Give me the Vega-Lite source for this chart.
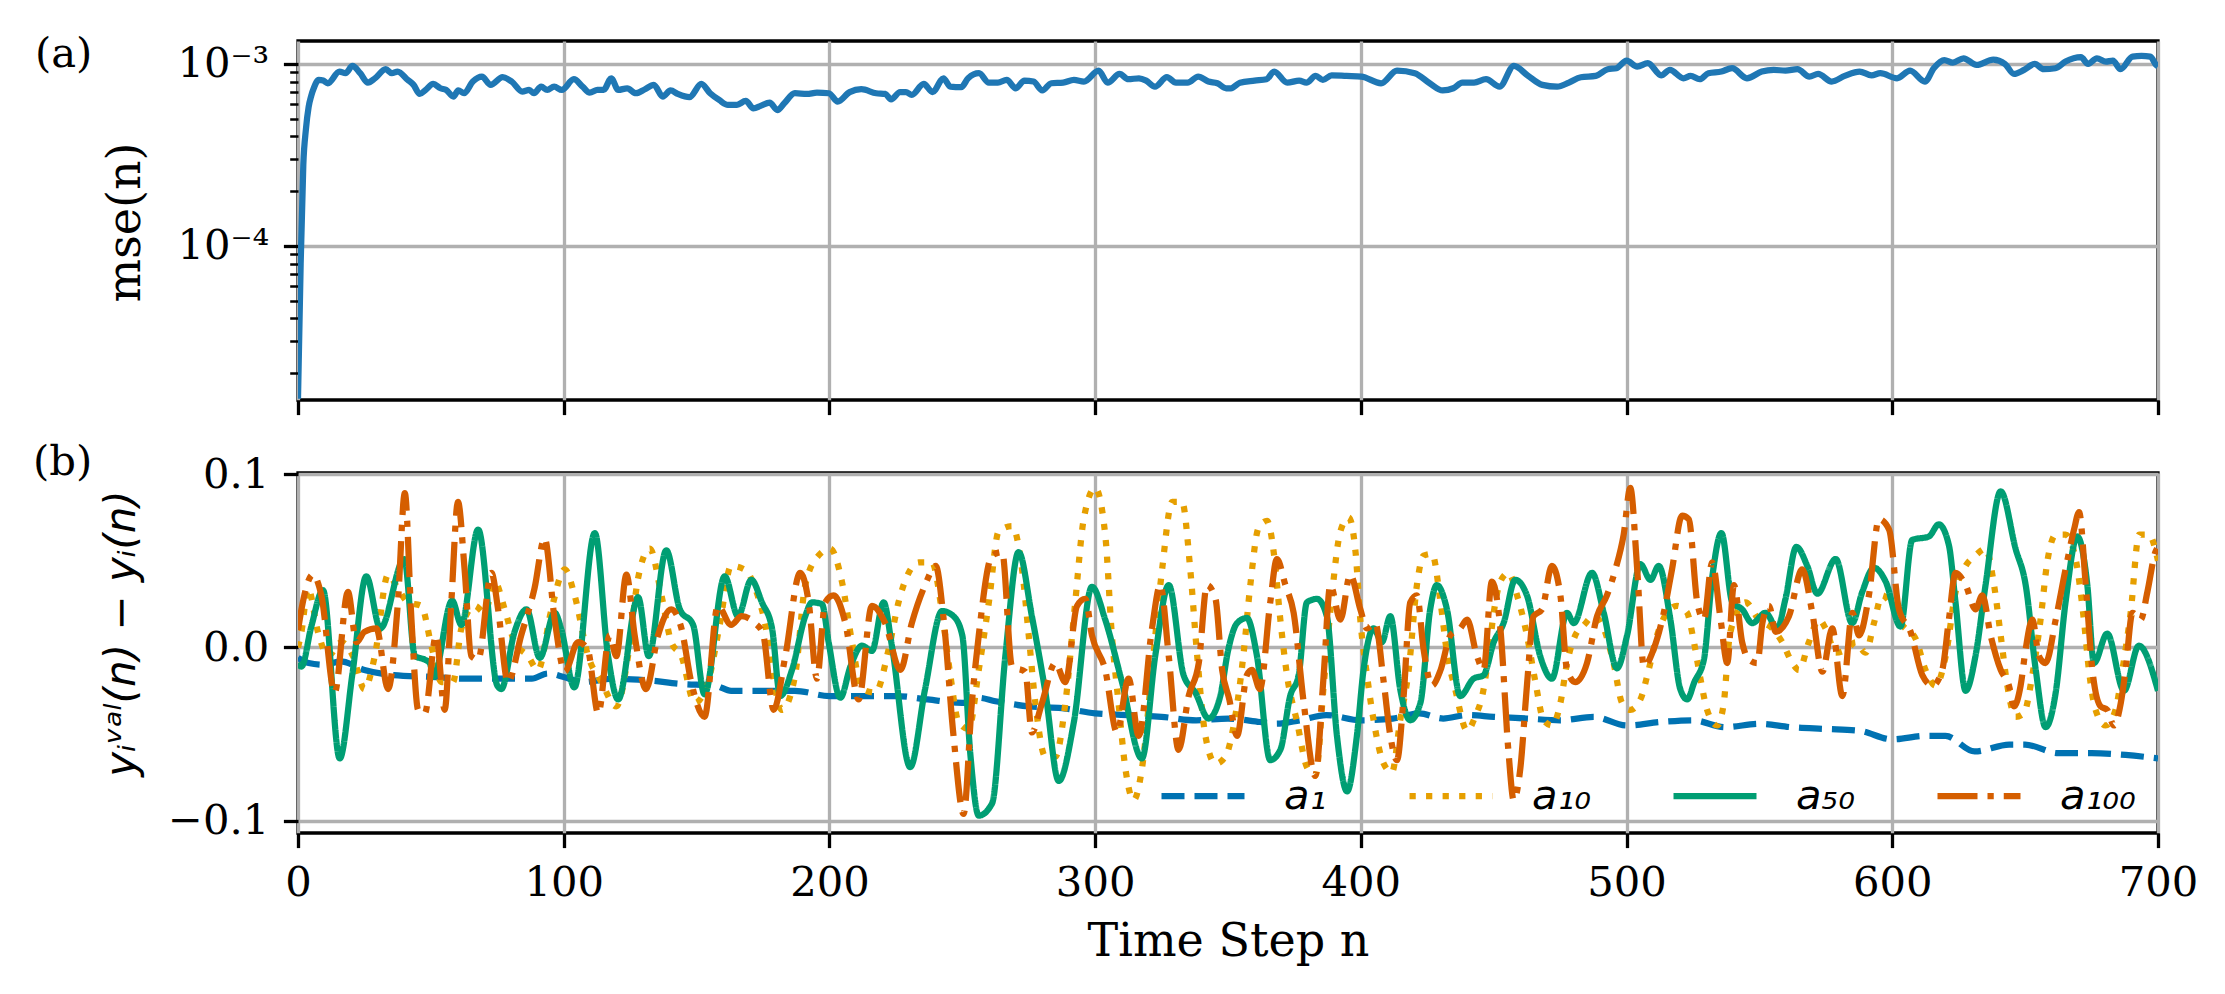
{
"$schema": "https://vega.github.io/schema/vega-lite/v6.json",
"background": "white",
"padding": {"left": 31, "top": 32, "right": 10, "bottom": 10},
"spacing": 73,
"bounds": "flush",
"config": {
  "view": {"stroke": "black", "strokeWidth": 3.3},
  "axis": {"domain": false, "tickColor": "black", "tickWidth": 3.3, "tickSize": 14.6, "labelColor": "black", "labelFont": "DejaVu Serif", "labelFontSize": 41.7, "labelPadding": 14.6, "gridColor": "#b0b0b0", "gridWidth": 3.3, "titleColor": "black", "titleFontWeight": "normal", "labelOverlap": false, "labelFlush": false}
},
"datasets": {
"mse": [
{"n":0,"v":1.45e-5},{"n":1,"v":8e-5},{"n":2,"v":2.8e-4},{"n":3,"v":4.4e-4},{"n":4,"v":5.8e-4},{"n":5,"v":6.7e-4},{"n":6,"v":7.4e-4},{"n":7.8,"v":8.17e-4},{"n":9.5,"v":8.1e-4},{"n":11.2,"v":7.83e-4},
{"n":15.6,"v":9.08e-4},{"n":17.9,"v":8.89e-4},{"n":20.5,"v":9.75e-4},{"n":23.4,"v":8.89e-4},{"n":26.3,"v":7.89e-4},{"n":29,"v":8.34e-4},{"n":33,"v":9.35e-4},{"n":35.3,"v":8.89e-4},{"n":37.5,"v":9.08e-4},{"n":41.3,"v":8.17e-4},
{"n":43.5,"v":7.67e-4},{"n":45.8,"v":6.84e-4},{"n":48,"v":7.19e-4},{"n":50.9,"v":7.76e-4},{"n":53.6,"v":7.35e-4},{"n":55.8,"v":7.19e-4},{"n":58.5,"v":6.62e-4},{"n":60.3,"v":7.15e-4},{"n":62.5,"v":6.9e-4},{"n":65.8,"v":8.0e-4},
{"n":69.2,"v":8.52e-4},{"n":72.5,"v":7.67e-4},{"n":77,"v":8.45e-4},{"n":80.4,"v":8.0e-4},{"n":84.4,"v":7.05e-4},{"n":87,"v":7.19e-4},{"n":88.8,"v":6.9e-4},{"n":91.5,"v":7.5e-4},{"n":93.8,"v":7.19e-4},{"n":96.4,"v":7.5e-4},
{"n":99.3,"v":7.19e-4},{"n":103.8,"v":8.24e-4},{"n":107.1,"v":7.5e-4},{"n":109.8,"v":6.95e-4},{"n":112.7,"v":7.19e-4},{"n":115,"v":7.19e-4},{"n":117.9,"v":8.34e-4},{"n":120.5,"v":7.19e-4},{"n":123.9,"v":7.35e-4},{"n":127.2,"v":6.9e-4},
{"n":130.6,"v":7.26e-4},{"n":133.9,"v":7.67e-4},{"n":137.3,"v":6.62e-4},{"n":140.2,"v":7.15e-4},{"n":142.9,"v":6.84e-4},{"n":147.3,"v":6.56e-4},{"n":151.8,"v":7.76e-4},{"n":155.1,"v":6.9e-4},{"n":158.5,"v":6.34e-4},{"n":161.8,"v":5.96e-4},
{"n":165.2,"v":5.96e-4},{"n":168.5,"v":6.26e-4},{"n":171.4,"v":5.7e-4},{"n":174.1,"v":5.88e-4},{"n":177.5,"v":6.13e-4},{"n":180.4,"v":5.58e-4},{"n":183,"v":6.08e-4},{"n":187,"v":6.9e-4},{"n":191.5,"v":6.84e-4},{"n":195.3,"v":6.95e-4},
{"n":199.8,"v":6.9e-4},{"n":203.1,"v":6.21e-4},{"n":207.6,"v":7.0e-4},{"n":212,"v":7.26e-4},{"n":217.6,"v":6.9e-4},{"n":221,"v":6.84e-4},{"n":223.2,"v":6.39e-4},{"n":226.6,"v":7.0e-4},{"n":228.8,"v":7.0e-4},{"n":231,"v":6.76e-4},
{"n":235.5,"v":7.76e-4},{"n":238.8,"v":7.0e-4},{"n":242.9,"v":8.34e-4},{"n":245.5,"v":7.5e-4},{"n":249.6,"v":7.45e-4},{"n":252.2,"v":8.34e-4},{"n":256.3,"v":8.89e-4},{"n":260,"v":7.89e-4},{"n":263.4,"v":7.89e-4},{"n":266.7,"v":8.17e-4},
{"n":270.1,"v":7.35e-4},{"n":273.4,"v":8.1e-4},{"n":276.8,"v":8.0e-4},{"n":280.1,"v":7.15e-4},{"n":283.5,"v":7.83e-4},{"n":288,"v":7.89e-4},{"n":292,"v":8.17e-4},{"n":295.8,"v":8.0e-4},{"n":301.3,"v":9.19e-4},{"n":304.7,"v":7.89e-4},
{"n":309.2,"v":8.81e-4},{"n":312.5,"v":8.24e-4},{"n":316.5,"v":8.34e-4},{"n":319.2,"v":8.1e-4},{"n":322.5,"v":7.5e-4},{"n":327,"v":8.45e-4},{"n":330.4,"v":7.89e-4},{"n":334.8,"v":7.89e-4},{"n":338.8,"v":8.52e-4},{"n":342.6,"v":8.0e-4},
{"n":346,"v":7.83e-4},{"n":349.3,"v":7.35e-4},{"n":351.1,"v":7.35e-4},{"n":354.5,"v":7.89e-4},{"n":360,"v":8.1e-4},{"n":364.5,"v":8.24e-4},{"n":367.4,"v":9.08e-4},{"n":372.3,"v":7.89e-4},{"n":376.8,"v":8.1e-4},{"n":379.5,"v":7.89e-4},
{"n":383,"v":8.59e-4},{"n":385.7,"v":8.17e-4},{"n":389,"v":8.66e-4},{"n":394.6,"v":8.59e-4},{"n":400.2,"v":8.52e-4},{"n":407.6,"v":7.83e-4},{"n":413.6,"v":9.19e-4},{"n":420.3,"v":8.89e-4},{"n":425.9,"v":7.83e-4},{"n":430.8,"v":7.15e-4},
{"n":434.8,"v":7.35e-4},{"n":438.2,"v":7.89e-4},{"n":442.6,"v":7.89e-4},{"n":447.1,"v":8.24e-4},{"n":452.2,"v":7.5e-4},{"n":457.6,"v":9.75e-4},{"n":462.7,"v":8.66e-4},{"n":468.3,"v":7.67e-4},{"n":473.9,"v":7.5e-4},{"n":478.3,"v":7.89e-4},
{"n":482.8,"v":8.45e-4},{"n":488.4,"v":8.59e-4},{"n":492.9,"v":9.35e-4},{"n":496.2,"v":9.47e-4},{"n":500,"v":1.043e-3},{"n":504,"v":9.67e-4},{"n":508,"v":1.01e-3},{"n":513,"v":8.66e-4},{"n":516.3,"v":9.27e-4},{"n":521.4,"v":8.34e-4},
{"n":524.1,"v":8.59e-4},{"n":527.5,"v":8.24e-4},{"n":530.8,"v":8.89e-4},{"n":535.7,"v":9.08e-4},{"n":539.7,"v":9.47e-4},{"n":545.3,"v":8.34e-4},{"n":550.9,"v":9.08e-4},{"n":555.4,"v":9.27e-4},{"n":559.8,"v":9.19e-4},{"n":564.3,"v":9.35e-4},
{"n":568.8,"v":8.52e-4},{"n":572.1,"v":8.81e-4},{"n":577.2,"v":8.0e-4},{"n":582.1,"v":8.59e-4},{"n":587.7,"v":9.08e-4},{"n":592.2,"v":8.66e-4},{"n":595.5,"v":8.89e-4},{"n":601.8,"v":8.34e-4},{"n":606.7,"v":9.19e-4},{"n":612.3,"v":8.0e-4},
{"n":615.6,"v":9.47e-4},{"n":619.6,"v":1.05e-3},{"n":622.8,"v":1.017e-3},{"n":626.8,"v":1.074e-3},{"n":631.7,"v":9.87e-4},{"n":638,"v":1.055e-3},{"n":642.4,"v":1.0e-3},{"n":645.8,"v":8.81e-4},{"n":649.6,"v":9.27e-4},{"n":653.6,"v":1.0e-3},
{"n":657,"v":9.35e-4},{"n":661.4,"v":9.47e-4},{"n":665.2,"v":1.03e-3},{"n":671,"v":1.088e-3},{"n":673.7,"v":1.0e-3},{"n":677,"v":1.074e-3},{"n":680.4,"v":1.03e-3},{"n":683,"v":1.043e-3},{"n":685.9,"v":9.35e-4},{"n":690.4,"v":1.097e-3},
{"n":693.8,"v":1.106e-3},{"n":697.1,"v":1.097e-3},{"n":699.3,"v":9.87e-4},{"n":700,"v":9.7e-4}
],
"err": [
{"n":0,"s":"a₁","v":-0.006},{"n":4,"s":"a₁","v":-0.009},{"n":10,"s":"a₁","v":-0.010},{"n":16,"s":"a₁","v":-0.008},{"n":25,"s":"a₁","v":-0.013},{"n":36,"s":"a₁","v":-0.016},{"n":50,"s":"a₁","v":-0.017},{"n":63,"s":"a₁","v":-0.018},{"n":75,"s":"a₁","v":-0.018},{"n":88,"s":"a₁","v":-0.018},
{"n":94,"s":"a₁","v":-0.015},{"n":100,"s":"a₁","v":-0.017},{"n":107,"s":"a₁","v":-0.020},{"n":119,"s":"a₁","v":-0.018},{"n":132,"s":"a₁","v":-0.019},{"n":144,"s":"a₁","v":-0.021},{"n":157,"s":"a₁","v":-0.022},{"n":163,"s":"a₁","v":-0.025},{"n":176,"s":"a₁","v":-0.025},{"n":187,"s":"a₁","v":-0.025},
{"n":200,"s":"a₁","v":-0.028},{"n":212,"s":"a₁","v":-0.028},{"n":225,"s":"a₁","v":-0.028},{"n":237,"s":"a₁","v":-0.030},{"n":250,"s":"a₁","v":-0.032},{"n":256,"s":"a₁","v":-0.029},{"n":262.5,"s":"a₁","v":-0.031},{"n":275,"s":"a₁","v":-0.034},{"n":287.5,"s":"a₁","v":-0.035},{"n":300,"s":"a₁","v":-0.038},
{"n":312.6,"s":"a₁","v":-0.039},{"n":325,"s":"a₁","v":-0.040},{"n":338,"s":"a₁","v":-0.042},{"n":350,"s":"a₁","v":-0.041},{"n":362,"s":"a₁","v":-0.043},{"n":368,"s":"a₁","v":-0.044},{"n":377,"s":"a₁","v":-0.042},{"n":387,"s":"a₁","v":-0.039},{"n":400,"s":"a₁","v":-0.042},{"n":412,"s":"a₁","v":-0.041},
{"n":422,"s":"a₁","v":-0.038},{"n":431,"s":"a₁","v":-0.041},{"n":440,"s":"a₁","v":-0.039},{"n":450,"s":"a₁","v":-0.040},{"n":462.5,"s":"a₁","v":-0.041},{"n":475,"s":"a₁","v":-0.042},{"n":487.6,"s":"a₁","v":-0.040},{"n":500,"s":"a₁","v":-0.045},{"n":512.7,"s":"a₁","v":-0.043},{"n":525,"s":"a₁","v":-0.042},
{"n":537,"s":"a₁","v":-0.046},{"n":550,"s":"a₁","v":-0.044},{"n":562,"s":"a₁","v":-0.046},{"n":575,"s":"a₁","v":-0.047},{"n":587.5,"s":"a₁","v":-0.048},{"n":600,"s":"a₁","v":-0.053},{"n":612.5,"s":"a₁","v":-0.051},{"n":620,"s":"a₁","v":-0.051},{"n":631,"s":"a₁","v":-0.060},{"n":644,"s":"a₁","v":-0.056},
{"n":650,"s":"a₁","v":-0.056},{"n":662.5,"s":"a₁","v":-0.061},{"n":675,"s":"a₁","v":-0.061},{"n":687.8,"s":"a₁","v":-0.062},{"n":700,"s":"a₁","v":-0.064},
{"n":0,"s":"a₁₀","v":0.0},{"n":1.3,"s":"a₁₀","v":0.009},{"n":3.8,"s":"a₁₀","v":0.034},{"n":7.5,"s":"a₁₀","v":0.009},{"n":11.3,"s":"a₁₀","v":-0.005},{"n":16.3,"s":"a₁₀","v":0.003},{"n":20.7,"s":"a₁₀","v":-0.005},{"n":25,"s":"a₁₀","v":-0.024},{"n":28.9,"s":"a₁₀","v":-0.005},{"n":33.9,"s":"a₁₀","v":0.042},
{"n":37.6,"s":"a₁₀","v":0.034},{"n":41.4,"s":"a₁₀","v":0.026},{"n":46.4,"s":"a₁₀","v":0.024},{"n":50.2,"s":"a₁₀","v":0.001},{"n":54,"s":"a₁₀","v":-0.020},{"n":58.3,"s":"a₁₀","v":-0.020},{"n":61.5,"s":"a₁₀","v":0.011},{"n":66.5,"s":"a₁₀","v":0.024},{"n":70.3,"s":"a₁₀","v":0.020},{"n":74,"s":"a₁₀","v":0.038},
{"n":77.8,"s":"a₁₀","v":0.022},{"n":81.5,"s":"a₁₀","v":0.003},{"n":86.6,"s":"a₁₀","v":-0.005},{"n":90.3,"s":"a₁₀","v":-0.013},{"n":95.4,"s":"a₁₀","v":0.022},{"n":100.4,"s":"a₁₀","v":0.045},{"n":104.1,"s":"a₁₀","v":0.030},{"n":109.2,"s":"a₁₀","v":-0.005},{"n":114.2,"s":"a₁₀","v":-0.020},{"n":119.8,"s":"a₁₀","v":-0.034},
{"n":124.2,"s":"a₁₀","v":-0.005},{"n":128,"s":"a₁₀","v":0.040},{"n":132.4,"s":"a₁₀","v":0.057},{"n":136.8,"s":"a₁₀","v":0.030},{"n":140.5,"s":"a₁₀","v":0.003},{"n":144.3,"s":"a₁₀","v":-0.005},{"n":149.3,"s":"a₁₀","v":-0.032},{"n":154.3,"s":"a₁₀","v":-0.020},{"n":158.7,"s":"a₁₀","v":0.013},{"n":163,"s":"a₁₀","v":0.047},
{"n":168,"s":"a₁₀","v":0.045},{"n":173,"s":"a₁₀","v":0.030},{"n":176,"s":"a₁₀","v":0.012},{"n":178.4,"s":"a₁₀","v":-0.013},{"n":182.1,"s":"a₁₀","v":-0.036},{"n":187.1,"s":"a₁₀","v":-0.016},{"n":190.9,"s":"a₁₀","v":0.036},{"n":195.9,"s":"a₁₀","v":0.053},{"n":200.3,"s":"a₁₀","v":0.057},{"n":204.7,"s":"a₁₀","v":0.038},
{"n":208.5,"s":"a₁₀","v":0.003},{"n":212.2,"s":"a₁₀","v":-0.024},{"n":217.3,"s":"a₁₀","v":-0.026},{"n":222.3,"s":"a₁₀","v":-0.001},{"n":226,"s":"a₁₀","v":0.026},{"n":229.8,"s":"a₁₀","v":0.043},{"n":233.6,"s":"a₁₀","v":0.049},{"n":238.6,"s":"a₁₀","v":0.049},{"n":242.4,"s":"a₁₀","v":0.020},{"n":245.5,"s":"a₁₀","v":-0.016},
{"n":248.6,"s":"a₁₀","v":-0.043},{"n":252.4,"s":"a₁₀","v":-0.047},{"n":256.2,"s":"a₁₀","v":-0.013},{"n":260,"s":"a₁₀","v":0.026},{"n":263.7,"s":"a₁₀","v":0.067},{"n":268.7,"s":"a₁₀","v":0.070},{"n":272.5,"s":"a₁₀","v":0.045},{"n":275,"s":"a₁₀","v":0.007},{"n":277.5,"s":"a₁₀","v":-0.032},{"n":281.3,"s":"a₁₀","v":-0.063},
{"n":285,"s":"a₁₀","v":-0.063},{"n":288.8,"s":"a₁₀","v":-0.032},{"n":292.5,"s":"a₁₀","v":0.026},{"n":295.7,"s":"a₁₀","v":0.074},{"n":300,"s":"a₁₀","v":0.092},{"n":303.8,"s":"a₁₀","v":0.065},{"n":306.3,"s":"a₁₀","v":0.007},{"n":308.8,"s":"a₁₀","v":-0.032},{"n":311.4,"s":"a₁₀","v":-0.070},{"n":314.5,"s":"a₁₀","v":-0.088},
{"n":317.6,"s":"a₁₀","v":-0.070},{"n":321.4,"s":"a₁₀","v":-0.013},{"n":325.2,"s":"a₁₀","v":0.045},{"n":329,"s":"a₁₀","v":0.084},{"n":332.7,"s":"a₁₀","v":0.084},{"n":335.8,"s":"a₁₀","v":0.045},{"n":338.3,"s":"a₁₀","v":-0.003},{"n":341.5,"s":"a₁₀","v":-0.051},{"n":345.3,"s":"a₁₀","v":-0.067},{"n":349,"s":"a₁₀","v":-0.063},
{"n":352.7,"s":"a₁₀","v":-0.040},{"n":355.9,"s":"a₁₀","v":-0.003},{"n":358.4,"s":"a₁₀","v":0.036},{"n":361.5,"s":"a₁₀","v":0.069},{"n":364.7,"s":"a₁₀","v":0.073},{"n":367.2,"s":"a₁₀","v":0.055},{"n":369.7,"s":"a₁₀","v":0.016},{"n":372.2,"s":"a₁₀","v":-0.016},{"n":376,"s":"a₁₀","v":-0.043},{"n":379.7,"s":"a₁₀","v":-0.069},
{"n":382.9,"s":"a₁₀","v":-0.074},{"n":386,"s":"a₁₀","v":-0.022},{"n":389.1,"s":"a₁₀","v":0.030},{"n":392.3,"s":"a₁₀","v":0.067},{"n":395.4,"s":"a₁₀","v":0.075},{"n":398,"s":"a₁₀","v":0.055},{"n":399.8,"s":"a₁₀","v":0.016},{"n":402.3,"s":"a₁₀","v":-0.016},{"n":404.8,"s":"a₁₀","v":-0.042},{"n":408.6,"s":"a₁₀","v":-0.067},
{"n":411.7,"s":"a₁₀","v":-0.072},{"n":414.8,"s":"a₁₀","v":-0.042},{"n":418,"s":"a₁₀","v":-0.013},{"n":421.1,"s":"a₁₀","v":0.036},{"n":423.6,"s":"a₁₀","v":0.053},{"n":426.8,"s":"a₁₀","v":0.054},{"n":430,"s":"a₁₀","v":0.026},{"n":432.4,"s":"a₁₀","v":-0.003},{"n":435.5,"s":"a₁₀","v":-0.024},{"n":440,"s":"a₁₀","v":-0.048},
{"n":443,"s":"a₁₀","v":-0.040},{"n":446.2,"s":"a₁₀","v":-0.024},{"n":448,"s":"a₁₀","v":-0.005},{"n":450,"s":"a₁₀","v":0.020},{"n":452.5,"s":"a₁₀","v":0.038},{"n":455.6,"s":"a₁₀","v":0.043},{"n":458.8,"s":"a₁₀","v":0.030},{"n":462.5,"s":"a₁₀","v":0.007},{"n":465.7,"s":"a₁₀","v":-0.020},{"n":468.8,"s":"a₁₀","v":-0.042},
{"n":472,"s":"a₁₀","v":-0.045},{"n":475.1,"s":"a₁₀","v":-0.032},{"n":477.6,"s":"a₁₀","v":-0.009},{"n":480.7,"s":"a₁₀","v":0.007},{"n":484,"s":"a₁₀","v":0.013},{"n":487.6,"s":"a₁₀","v":0.018},{"n":491.4,"s":"a₁₀","v":0.011},{"n":495.1,"s":"a₁₀","v":-0.009},{"n":498.3,"s":"a₁₀","v":-0.032},{"n":501.4,"s":"a₁₀","v":-0.036},
{"n":505.2,"s":"a₁₀","v":-0.030},{"n":508.3,"s":"a₁₀","v":-0.013},{"n":511.5,"s":"a₁₀","v":0.007},{"n":515.2,"s":"a₁₀","v":0.020},{"n":519,"s":"a₁₀","v":0.024},{"n":522.8,"s":"a₁₀","v":0.020},{"n":525,"s":"a₁₀","v":0.006},{"n":527.8,"s":"a₁₀","v":-0.018},{"n":530.3,"s":"a₁₀","v":-0.036},{"n":534.1,"s":"a₁₀","v":-0.045},
{"n":536.6,"s":"a₁₀","v":-0.032},{"n":538.5,"s":"a₁₀","v":0.003},{"n":541,"s":"a₁₀","v":0.018},{"n":544.8,"s":"a₁₀","v":0.026},{"n":549.8,"s":"a₁₀","v":0.016},{"n":554.8,"s":"a₁₀","v":0.011},{"n":558.6,"s":"a₁₀","v":0.003},{"n":562.4,"s":"a₁₀","v":-0.009},{"n":564.9,"s":"a₁₀","v":-0.013},{"n":568.6,"s":"a₁₀","v":0.003},
{"n":572.4,"s":"a₁₀","v":0.016},{"n":574.9,"s":"a₁₀","v":0.011},{"n":578.7,"s":"a₁₀","v":-0.003},{"n":583,"s":"a₁₀","v":-0.001},{"n":586.2,"s":"a₁₀","v":0.003},{"n":590,"s":"a₁₀","v":-0.003},{"n":593.1,"s":"a₁₀","v":0.014},{"n":596.2,"s":"a₁₀","v":0.030},{"n":600,"s":"a₁₀","v":0.024},{"n":603.8,"s":"a₁₀","v":0.013},
{"n":608.8,"s":"a₁₀","v":0.005},{"n":612.5,"s":"a₁₀","v":-0.013},{"n":616.3,"s":"a₁₀","v":-0.022},{"n":620.1,"s":"a₁₀","v":-0.005},{"n":623.8,"s":"a₁₀","v":0.032},{"n":627.6,"s":"a₁₀","v":0.047},{"n":631.3,"s":"a₁₀","v":0.053},{"n":635.1,"s":"a₁₀","v":0.057},{"n":638.3,"s":"a₁₀","v":0.036},{"n":640.8,"s":"a₁₀","v":0.007},
{"n":643.3,"s":"a₁₀","v":-0.022},{"n":646.4,"s":"a₁₀","v":-0.040},{"n":649.5,"s":"a₁₀","v":-0.038},{"n":652.7,"s":"a₁₀","v":-0.016},{"n":655.8,"s":"a₁₀","v":0.016},{"n":658.3,"s":"a₁₀","v":0.049},{"n":661.5,"s":"a₁₀","v":0.065},{"n":665.2,"s":"a₁₀","v":0.065},{"n":669,"s":"a₁₀","v":0.051},{"n":672.1,"s":"a₁₀","v":0.016},
{"n":674,"s":"a₁₀","v":-0.013},{"n":676.5,"s":"a₁₀","v":-0.036},{"n":680.3,"s":"a₁₀","v":-0.045},{"n":684,"s":"a₁₀","v":-0.036},{"n":686.6,"s":"a₁₀","v":-0.013},{"n":689.7,"s":"a₁₀","v":0.020},{"n":692.9,"s":"a₁₀","v":0.065},{"n":696.6,"s":"a₁₀","v":0.065},{"n":700,"s":"a₁₀","v":0.050},
{"n":0,"s":"a₅₀","v":-0.009},{"n":1.3,"s":"a₅₀","v":-0.011},{"n":5,"s":"a₅₀","v":0.012},{"n":9.4,"s":"a₅₀","v":0.033},{"n":15.7,"s":"a₅₀","v":-0.064},{"n":20.5,"s":"a₅₀","v":-0.015},{"n":25.7,"s":"a₅₀","v":0.041},{"n":31,"s":"a₅₀","v":0.011},{"n":40,"s":"a₅₀","v":0.051},{"n":44,"s":"a₅₀","v":-0.005},{"n":47.7,"s":"a₅₀","v":-0.007},
{"n":49.6,"s":"a₅₀","v":-0.009},{"n":51,"s":"a₅₀","v":-0.017},{"n":58,"s":"a₅₀","v":0.027},{"n":61.5,"s":"a₅₀","v":0.013},{"n":67.8,"s":"a₅₀","v":0.068},{"n":75,"s":"a₅₀","v":-0.022},{"n":76.5,"s":"a₅₀","v":-0.024},{"n":81.5,"s":"a₅₀","v":0.009},{"n":86,"s":"a₅₀","v":0.022},{"n":91,"s":"a₅₀","v":-0.006},
{"n":96.6,"s":"a₅₀","v":0.020},{"n":99,"s":"a₅₀","v":0.011},{"n":104,"s":"a₅₀","v":-0.023},{"n":111.7,"s":"a₅₀","v":0.066},{"n":116.7,"s":"a₅₀","v":-0.005},{"n":120.5,"s":"a₅₀","v":-0.030},{"n":128,"s":"a₅₀","v":0.029},{"n":132,"s":"a₅₀","v":-0.005},{"n":138.6,"s":"a₅₀","v":0.056},{"n":143.7,"s":"a₅₀","v":0.022},
{"n":148.7,"s":"a₅₀","v":0.013},{"n":153,"s":"a₅₀","v":-0.027},{"n":160.6,"s":"a₅₀","v":0.041},{"n":165.6,"s":"a₅₀","v":0.018},{"n":170.6,"s":"a₅₀","v":0.039},{"n":174.6,"s":"a₅₀","v":0.026},{"n":178.4,"s":"a₅₀","v":0.011},{"n":181.5,"s":"a₅₀","v":-0.028},{"n":185.9,"s":"a₅₀","v":-0.013},{"n":190.9,"s":"a₅₀","v":0.018},
{"n":193.4,"s":"a₅₀","v":0.026},{"n":197.2,"s":"a₅₀","v":0.025},{"n":199.7,"s":"a₅₀","v":0.003},{"n":204.1,"s":"a₅₀","v":-0.029},{"n":207.9,"s":"a₅₀","v":-0.011},{"n":212.2,"s":"a₅₀","v":0.001},{"n":216,"s":"a₅₀","v":-0.002},{"n":220.4,"s":"a₅₀","v":0.026},{"n":223.5,"s":"a₅₀","v":0.001},{"n":230.4,"s":"a₅₀","v":-0.069},
{"n":236,"s":"a₅₀","v":-0.024},{"n":242.4,"s":"a₅₀","v":0.021},{"n":246.7,"s":"a₅₀","v":0.018},{"n":250,"s":"a₅₀","v":0.007},{"n":253,"s":"a₅₀","v":-0.061},{"n":256.2,"s":"a₅₀","v":-0.097},{"n":261.2,"s":"a₅₀","v":-0.090},{"n":266.2,"s":"a₅₀","v":-0.005},{"n":271.2,"s":"a₅₀","v":0.055},{"n":276.2,"s":"a₅₀","v":0.018},
{"n":281.3,"s":"a₅₀","v":-0.026},{"n":286.3,"s":"a₅₀","v":-0.077},{"n":292,"s":"a₅₀","v":-0.043},{"n":298.8,"s":"a₅₀","v":0.035},{"n":303.8,"s":"a₅₀","v":0.016},{"n":310.1,"s":"a₅₀","v":-0.020},{"n":317.6,"s":"a₅₀","v":-0.064},{"n":322.6,"s":"a₅₀","v":-0.005},{"n":327.7,"s":"a₅₀","v":0.036},{"n":333.3,"s":"a₅₀","v":-0.016},
{"n":337.7,"s":"a₅₀","v":-0.026},{"n":342.7,"s":"a₅₀","v":-0.041},{"n":347.1,"s":"a₅₀","v":-0.028},{"n":350,"s":"a₅₀","v":-0.002},{"n":353.4,"s":"a₅₀","v":0.014},{"n":357.1,"s":"a₅₀","v":0.017},{"n":360.9,"s":"a₅₀","v":-0.005},{"n":365.9,"s":"a₅₀","v":-0.065},{"n":369.7,"s":"a₅₀","v":-0.059},{"n":373.4,"s":"a₅₀","v":-0.028},
{"n":376.6,"s":"a₅₀","v":-0.016},{"n":379.7,"s":"a₅₀","v":0.026},{"n":383.5,"s":"a₅₀","v":0.028},{"n":387.2,"s":"a₅₀","v":0.018},{"n":391,"s":"a₅₀","v":-0.051},{"n":394.8,"s":"a₅₀","v":-0.083},{"n":398.5,"s":"a₅₀","v":-0.051},{"n":401,"s":"a₅₀","v":-0.013},{"n":404.8,"s":"a₅₀","v":0.011},{"n":407.9,"s":"a₅₀","v":0.003},
{"n":411.1,"s":"a₅₀","v":0.018},{"n":414.8,"s":"a₅₀","v":-0.024},{"n":418.6,"s":"a₅₀","v":-0.042},{"n":422.4,"s":"a₅₀","v":-0.032},{"n":426.1,"s":"a₅₀","v":0.022},{"n":428.6,"s":"a₅₀","v":0.036},{"n":432.4,"s":"a₅₀","v":0.022},{"n":437.4,"s":"a₅₀","v":-0.028},{"n":442.4,"s":"a₅₀","v":-0.018},{"n":446.2,"s":"a₅₀","v":-0.016},
{"n":450,"s":"a₅₀","v":0.003},{"n":453.7,"s":"a₅₀","v":0.014},{"n":458.1,"s":"a₅₀","v":0.039},{"n":462.5,"s":"a₅₀","v":0.030},{"n":467.5,"s":"a₅₀","v":-0.005},{"n":471.9,"s":"a₅₀","v":-0.018},{"n":477.6,"s":"a₅₀","v":0.020},{"n":480.1,"s":"a₅₀","v":0.014},{"n":487,"s":"a₅₀","v":0.043},{"n":491.4,"s":"a₅₀","v":0.020},
{"n":496.4,"s":"a₅₀","v":-0.012},{"n":500.2,"s":"a₅₀","v":0.007},{"n":505.2,"s":"a₅₀","v":0.048},{"n":509,"s":"a₅₀","v":0.039},{"n":512.1,"s":"a₅₀","v":0.047},{"n":516.5,"s":"a₅₀","v":0.016},{"n":520.2,"s":"a₅₀","v":-0.024},{"n":522.8,"s":"a₅₀","v":-0.030},{"n":525.5,"s":"a₅₀","v":-0.020},{"n":529.1,"s":"a₅₀","v":-0.007},
{"n":532.2,"s":"a₅₀","v":0.040},{"n":535.7,"s":"a₅₀","v":0.066},{"n":539.8,"s":"a₅₀","v":0.026},{"n":543.5,"s":"a₅₀","v":0.022},{"n":547.3,"s":"a₅₀","v":0.014},{"n":552.3,"s":"a₅₀","v":0.020},{"n":556.7,"s":"a₅₀","v":0.011},{"n":559.8,"s":"a₅₀","v":0.028},{"n":563.9,"s":"a₅₀","v":0.058},{"n":568,"s":"a₅₀","v":0.047},
{"n":571.8,"s":"a₅₀","v":0.031},{"n":578.7,"s":"a₅₀","v":0.051},{"n":584.9,"s":"a₅₀","v":0.014},{"n":588.7,"s":"a₅₀","v":0.032},{"n":593.1,"s":"a₅₀","v":0.046},{"n":597.5,"s":"a₅₀","v":0.038},{"n":603.1,"s":"a₅₀","v":0.012},{"n":607.5,"s":"a₅₀","v":0.062},{"n":613.8,"s":"a₅₀","v":0.064},{"n":617.5,"s":"a₅₀","v":0.071},
{"n":621.3,"s":"a₅₀","v":0.059},{"n":623.8,"s":"a₅₀","v":0.026},{"n":627.6,"s":"a₅₀","v":-0.025},{"n":631.3,"s":"a₅₀","v":-0.005},{"n":635.1,"s":"a₅₀","v":0.036},{"n":640.8,"s":"a₅₀","v":0.090},{"n":646.4,"s":"a₅₀","v":0.057},{"n":650.2,"s":"a₅₀","v":0.036},{"n":654,"s":"a₅₀","v":-0.013},{"n":657.7,"s":"a₅₀","v":-0.046},
{"n":661.5,"s":"a₅₀","v":-0.026},{"n":665.2,"s":"a₅₀","v":0.026},{"n":669.6,"s":"a₅₀","v":0.064},{"n":673.4,"s":"a₅₀","v":0.036},{"n":675.9,"s":"a₅₀","v":-0.009},{"n":680.9,"s":"a₅₀","v":0.008},{"n":687.2,"s":"a₅₀","v":-0.025},{"n":692.8,"s":"a₅₀","v":0.001},{"n":700,"s":"a₅₀","v":-0.025},
{"n":0,"s":"a₁₀₀","v":0.010},{"n":1.3,"s":"a₁₀₀","v":0.022},{"n":5.6,"s":"a₁₀₀","v":0.042},{"n":8.8,"s":"a₁₀₀","v":0.030},{"n":13.8,"s":"a₁₀₀","v":-0.026},{"n":18.8,"s":"a₁₀₀","v":0.032},{"n":22,"s":"a₁₀₀","v":0.003},{"n":25,"s":"a₁₀₀","v":0.009},{"n":29.5,"s":"a₁₀₀","v":0.011},{"n":33.9,"s":"a₁₀₀","v":-0.024},
{"n":37.6,"s":"a₁₀₀","v":0.026},{"n":40.2,"s":"a₁₀₀","v":0.089},{"n":42.7,"s":"a₁₀₀","v":0.016},{"n":45.2,"s":"a₁₀₀","v":-0.036},{"n":47.7,"s":"a₁₀₀","v":-0.038},{"n":52,"s":"a₁₀₀","v":0.007},{"n":55.2,"s":"a₁₀₀","v":-0.036},{"n":57.7,"s":"a₁₀₀","v":0.026},{"n":60.2,"s":"a₁₀₀","v":0.084},{"n":62.7,"s":"a₁₀₀","v":0.045},
{"n":65.2,"s":"a₁₀₀","v":-0.005},{"n":67.8,"s":"a₁₀₀","v":-0.007},{"n":72.8,"s":"a₁₀₀","v":0.043},{"n":75.3,"s":"a₁₀₀","v":0.022},{"n":79,"s":"a₁₀₀","v":-0.020},{"n":84,"s":"a₁₀₀","v":0.007},{"n":89,"s":"a₁₀₀","v":0.034},{"n":92.8,"s":"a₁₀₀","v":0.063},{"n":96.6,"s":"a₁₀₀","v":0.016},{"n":100.4,"s":"a₁₀₀","v":-0.014},
{"n":105.4,"s":"a₁₀₀","v":0.003},{"n":109,"s":"a₁₀₀","v":-0.001},{"n":113,"s":"a₁₀₀","v":-0.038},{"n":117.3,"s":"a₁₀₀","v":0.007},{"n":119.8,"s":"a₁₀₀","v":-0.005},{"n":123.6,"s":"a₁₀₀","v":0.042},{"n":126.7,"s":"a₁₀₀","v":0.007},{"n":131,"s":"a₁₀₀","v":-0.024},{"n":135.5,"s":"a₁₀₀","v":0.007},{"n":140.5,"s":"a₁₀₀","v":0.022},
{"n":144.3,"s":"a₁₀₀","v":0.011},{"n":148,"s":"a₁₀₀","v":-0.020},{"n":153,"s":"a₁₀₀","v":-0.040},{"n":158,"s":"a₁₀₀","v":0.024},{"n":163,"s":"a₁₀₀","v":0.013},{"n":167,"s":"a₁₀₀","v":0.018},{"n":172,"s":"a₁₀₀","v":0.014},{"n":175,"s":"a₁₀₀","v":0.008},{"n":179,"s":"a₁₀₀","v":-0.036},{"n":183.4,"s":"a₁₀₀","v":-0.005},
{"n":189,"s":"a₁₀₀","v":0.043},{"n":192.2,"s":"a₁₀₀","v":0.026},{"n":195.3,"s":"a₁₀₀","v":-0.018},{"n":198.4,"s":"a₁₀₀","v":0.026},{"n":201.6,"s":"a₁₀₀","v":0.030},{"n":206,"s":"a₁₀₀","v":0.014},{"n":211,"s":"a₁₀₀","v":-0.030},{"n":216,"s":"a₁₀₀","v":0.024},{"n":221,"s":"a₁₀₀","v":0.014},{"n":226.7,"s":"a₁₀₀","v":-0.013},
{"n":231,"s":"a₁₀₀","v":0.014},{"n":236,"s":"a₁₀₀","v":0.036},{"n":240,"s":"a₁₀₀","v":0.047},{"n":243,"s":"a₁₀₀","v":0.016},{"n":246.7,"s":"a₁₀₀","v":-0.051},{"n":250.5,"s":"a₁₀₀","v":-0.096},{"n":253.6,"s":"a₁₀₀","v":-0.032},{"n":256.2,"s":"a₁₀₀","v":0.007},{"n":261.2,"s":"a₁₀₀","v":0.053},{"n":265,"s":"a₁₀₀","v":0.055},
{"n":268.7,"s":"a₁₀₀","v":-0.011},{"n":273.7,"s":"a₁₀₀","v":-0.014},{"n":276.2,"s":"a₁₀₀","v":-0.049},{"n":280,"s":"a₁₀₀","v":-0.032},{"n":285,"s":"a₁₀₀","v":-0.009},{"n":288.8,"s":"a₁₀₀","v":-0.020},{"n":293.2,"s":"a₁₀₀","v":0.024},{"n":296.3,"s":"a₁₀₀","v":0.028},{"n":298.8,"s":"a₁₀₀","v":0.007},{"n":303.8,"s":"a₁₀₀","v":-0.013},
{"n":308.2,"s":"a₁₀₀","v":-0.049},{"n":312.6,"s":"a₁₀₀","v":-0.018},{"n":316.4,"s":"a₁₀₀","v":-0.051},{"n":321.4,"s":"a₁₀₀","v":0.011},{"n":324.5,"s":"a₁₀₀","v":0.036},{"n":327.7,"s":"a₁₀₀","v":-0.005},{"n":331.4,"s":"a₁₀₀","v":-0.059},{"n":335.2,"s":"a₁₀₀","v":-0.028},{"n":339,"s":"a₁₀₀","v":-0.009},{"n":342.1,"s":"a₁₀₀","v":0.036},
{"n":345.3,"s":"a₁₀₀","v":0.028},{"n":347.8,"s":"a₁₀₀","v":-0.013},{"n":350.5,"s":"a₁₀₀","v":-0.030},{"n":353.4,"s":"a₁₀₀","v":-0.051},{"n":357.1,"s":"a₁₀₀","v":-0.016},{"n":359,"s":"a₁₀₀","v":-0.013},{"n":362,"s":"a₁₀₀","v":-0.024},{"n":365.9,"s":"a₁₀₀","v":0.026},{"n":368.4,"s":"a₁₀₀","v":0.051},{"n":371.6,"s":"a₁₀₀","v":0.036},
{"n":374.7,"s":"a₁₀₀","v":0.020},{"n":378.5,"s":"a₁₀₀","v":-0.032},{"n":382.8,"s":"a₁₀₀","v":-0.074},{"n":386,"s":"a₁₀₀","v":-0.016},{"n":388.5,"s":"a₁₀₀","v":0.036},{"n":392.3,"s":"a₁₀₀","v":0.016},{"n":396,"s":"a₁₀₀","v":0.042},{"n":399.8,"s":"a₁₀₀","v":0.022},{"n":402.3,"s":"a₁₀₀","v":0.011},{"n":405.4,"s":"a₁₀₀","v":0.014},
{"n":408.6,"s":"a₁₀₀","v":-0.020},{"n":411.1,"s":"a₁₀₀","v":-0.051},{"n":413.6,"s":"a₁₀₀","v":-0.065},{"n":416.1,"s":"a₁₀₀","v":-0.028},{"n":418.6,"s":"a₁₀₀","v":0.026},{"n":421.1,"s":"a₁₀₀","v":0.030},{"n":423.6,"s":"a₁₀₀","v":-0.001},{"n":426.8,"s":"a₁₀₀","v":-0.022},{"n":430,"s":"a₁₀₀","v":-0.013},{"n":433.7,"s":"a₁₀₀","v":0.007},
{"n":437.4,"s":"a₁₀₀","v":0.011},{"n":440,"s":"a₁₀₀","v":0.016},{"n":443.7,"s":"a₁₀₀","v":-0.005},{"n":446.2,"s":"a₁₀₀","v":-0.013},{"n":449.3,"s":"a₁₀₀","v":0.038},{"n":452.5,"s":"a₁₀₀","v":0.011},{"n":455.6,"s":"a₁₀₀","v":-0.061},{"n":457.5,"s":"a₁₀₀","v":-0.088},{"n":460,"s":"a₁₀₀","v":-0.070},{"n":462.5,"s":"a₁₀₀","v":-0.022},
{"n":465,"s":"a₁₀₀","v":0.018},{"n":468.2,"s":"a₁₀₀","v":0.022},{"n":471.9,"s":"a₁₀₀","v":0.047},{"n":475.1,"s":"a₁₀₀","v":0.030},{"n":477.6,"s":"a₁₀₀","v":-0.013},{"n":480.7,"s":"a₁₀₀","v":-0.020},{"n":485.1,"s":"a₁₀₀","v":-0.009},{"n":488.9,"s":"a₁₀₀","v":0.018},{"n":492.6,"s":"a₁₀₀","v":0.030},{"n":495.8,"s":"a₁₀₀","v":0.045},
{"n":498.9,"s":"a₁₀₀","v":0.065},{"n":501.4,"s":"a₁₀₀","v":0.092},{"n":504,"s":"a₁₀₀","v":0.045},{"n":506.5,"s":"a₁₀₀","v":-0.011},{"n":510.2,"s":"a₁₀₀","v":-0.001},{"n":514,"s":"a₁₀₀","v":0.020},{"n":517.1,"s":"a₁₀₀","v":0.045},{"n":520.9,"s":"a₁₀₀","v":0.076},{"n":523.4,"s":"a₁₀₀","v":0.074},{"n":526.6,"s":"a₁₀₀","v":0.026},
{"n":529.1,"s":"a₁₀₀","v":0.016},{"n":532.2,"s":"a₁₀₀","v":0.049},{"n":535.4,"s":"a₁₀₀","v":0.016},{"n":537.9,"s":"a₁₀₀","v":-0.009},{"n":540.4,"s":"a₁₀₀","v":0.036},{"n":543.5,"s":"a₁₀₀","v":0.003},{"n":546,"s":"a₁₀₀","v":-0.007},{"n":549.2,"s":"a₁₀₀","v":-0.009},{"n":551.1,"s":"a₁₀₀","v":0.014},{"n":553.6,"s":"a₁₀₀","v":0.024},
{"n":556.1,"s":"a₁₀₀","v":0.009},{"n":561.1,"s":"a₁₀₀","v":0.018},{"n":566.1,"s":"a₁₀₀","v":0.045},{"n":569.9,"s":"a₁₀₀","v":0.020},{"n":573.7,"s":"a₁₀₀","v":-0.014},{"n":577.4,"s":"a₁₀₀","v":0.011},{"n":581.2,"s":"a₁₀₀","v":-0.028},{"n":585,"s":"a₁₀₀","v":0.020},{"n":587.5,"s":"a₁₀₀","v":0.007},{"n":591.2,"s":"a₁₀₀","v":0.030},
{"n":595,"s":"a₁₀₀","v":0.074},{"n":598.8,"s":"a₁₀₀","v":0.068},{"n":602.5,"s":"a₁₀₀","v":0.022},{"n":606.9,"s":"a₁₀₀","v":0.009},{"n":611.3,"s":"a₁₀₀","v":-0.016},{"n":615.1,"s":"a₁₀₀","v":-0.022},{"n":618.8,"s":"a₁₀₀","v":-0.013},{"n":621.3,"s":"a₁₀₀","v":0.016},{"n":623.8,"s":"a₁₀₀","v":0.043},{"n":627.6,"s":"a₁₀₀","v":0.036},
{"n":631.3,"s":"a₁₀₀","v":0.022},{"n":633.9,"s":"a₁₀₀","v":0.030},{"n":637,"s":"a₁₀₀","v":0.007},{"n":640.8,"s":"a₁₀₀","v":-0.013},{"n":643.9,"s":"a₁₀₀","v":-0.022},{"n":645.8,"s":"a₁₀₀","v":-0.034},{"n":648.3,"s":"a₁₀₀","v":-0.022},{"n":650.2,"s":"a₁₀₀","v":-0.001},{"n":652.7,"s":"a₁₀₀","v":0.016},{"n":655.2,"s":"a₁₀₀","v":-0.005},
{"n":657.7,"s":"a₁₀₀","v":-0.009},{"n":661.5,"s":"a₁₀₀","v":0.016},{"n":665.2,"s":"a₁₀₀","v":0.045},{"n":668.4,"s":"a₁₀₀","v":0.068},{"n":670.3,"s":"a₁₀₀","v":0.078},{"n":672.8,"s":"a₁₀₀","v":0.036},{"n":675.3,"s":"a₁₀₀","v":-0.013},{"n":678.4,"s":"a₁₀₀","v":-0.034},{"n":680.9,"s":"a₁₀₀","v":-0.036},{"n":683.4,"s":"a₁₀₀","v":-0.045},
{"n":686,"s":"a₁₀₀","v":-0.032},{"n":687.8,"s":"a₁₀₀","v":-0.013},{"n":690.4,"s":"a₁₀₀","v":0.020},{"n":693.5,"s":"a₁₀₀","v":0.016},{"n":696,"s":"a₁₀₀","v":0.032},{"n":699,"s":"a₁₀₀","v":0.055},{"n":700,"s":"a₁₀₀","v":0.058}
]
},
"vconcat": [
{
  "width": 1860, "height": 359,
  "title": {"text": "(a)", "anchor": "start", "frame": "group", "orient": "top", "offset": -42, "dx": -263, "dy": 26, "font": "DejaVu Serif", "fontSize": 41.7, "fontWeight": "normal", "baseline": "alphabetic", "color": "black"},
  "data": {"name": "mse"},
  "mark": {"type": "line", "color": "#1f77b4", "strokeWidth": 6.25, "interpolate": "monotone", "clip": true},
  "encoding": {
    "x": {"field": "n", "type": "quantitative", "scale": {"domain": [0, 700], "nice": false},
      "axis": {"values": [0,100,200,300,400,500,600,700], "labels": false, "title": null, "grid": true}},
    "y": {"field": "v", "type": "quantitative", "scale": {"type": "log", "domain": [1.426e-5, 1.336e-3], "nice": false},
      "axis": {"values": [2e-5,3e-5,4e-5,5e-5,6e-5,7e-5,8e-5,9e-5,0.0001,2e-4,3e-4,4e-4,5e-4,6e-4,7e-4,8e-4,9e-4,0.001],
        "labelExpr": "abs(datum.value-0.001)<1e-9 ? '10⁻³' : (abs(datum.value-0.0001)<1e-10 ? '10⁻⁴' : '')",
        "tickSize": {"condition": {"test": "abs(datum.value-0.001)<1e-9 || abs(datum.value-0.0001)<1e-10", "value": 14.6}, "value": 8.3},
        "tickWidth": {"condition": {"test": "abs(datum.value-0.001)<1e-9 || abs(datum.value-0.0001)<1e-10", "value": 3.3}, "value": 2.5},
        "gridOpacity": {"condition": {"test": "abs(datum.value-0.001)<1e-9 || abs(datum.value-0.0001)<1e-10", "value": 1}, "value": 0},
        "grid": true,
        "title": "mse(n)", "titleFont": "DejaVu Serif", "titleFontSize": 46, "titleX": -149, "titleY": 181, "titleAngle": 270, "titleAlign": "center", "titleBaseline": "bottom"}}
  }
},
{
  "width": 1860, "height": 360,
  "title": {"text": "(b)", "anchor": "start", "frame": "group", "orient": "top", "offset": -63, "dx": -265, "dy": 0, "font": "DejaVu Serif", "fontSize": 41.7, "fontWeight": "normal", "baseline": "alphabetic", "color": "black"},
  "data": {"name": "err"},
  "mark": {"type": "line", "strokeWidth": 6.25, "interpolate": "monotone", "clip": true},
  "encoding": {
    "x": {"field": "n", "type": "quantitative", "scale": {"domain": [0, 700], "nice": false},
      "axis": {"values": [0,100,200,300,400,500,600,700], "grid": true, "title": "Time Step n", "titleFont": "DejaVu Serif", "titleFontSize": 46, "titleY": 122, "titleBaseline": "alphabetic"}},
    "y": {"field": "v", "type": "quantitative", "scale": {"domain": [-0.107, 0.1006], "nice": false, "zero": false},
      "axis": {"values": [-0.1, 0, 0.1], "format": ".1f", "grid": true,
        "title": "yᵢᵛᵃˡ(n) − yᵢ(n)", "titleFont": "DejaVu Sans", "titleFontStyle": "italic", "titleFontSize": 42, "titleX": -155, "titleY": 160, "titleAngle": 270, "titleAlign": "center", "titleBaseline": "bottom"}},
    "color": {"field": "s", "type": "nominal", "sort": null,
      "scale": {"domain": ["a₁","a₁₀","a₅₀","a₁₀₀"], "range": ["#0072B2","#E69F00","#009E73","#D55E00"]},
      "legend": {"title": null, "orient": "none", "legendX": 860, "legendY": 710, "direction": "horizontal", "columns": 4, "symbolType": "stroke", "symbolSize": 6889, "symbolStrokeWidth": 6.25, "labelFont": "DejaVu Sans", "labelFontStyle": "italic", "labelFontSize": 41.7, "labelColor": "black", "labelOffset": 36, "columnPadding": 70, "padding": 0, "labelLimit": 0}},
    "strokeDash": {"field": "s", "type": "nominal", "sort": null,
      "scale": {"domain": ["a₁","a₁₀","a₅₀","a₁₀₀"], "range": [[23,10],[6.25,10.3],[1,0],[40,10,6.25,10]]},
      "legend": {"title": null, "orient": "none", "legendX": 860, "legendY": 710, "direction": "horizontal", "columns": 4, "symbolType": "stroke", "symbolSize": 6889, "symbolStrokeWidth": 6.25, "labelFont": "DejaVu Sans", "labelFontStyle": "italic", "labelFontSize": 41.7, "labelColor": "black", "labelOffset": 36, "columnPadding": 70, "padding": 0, "labelLimit": 0}}
  }
}
]
}
